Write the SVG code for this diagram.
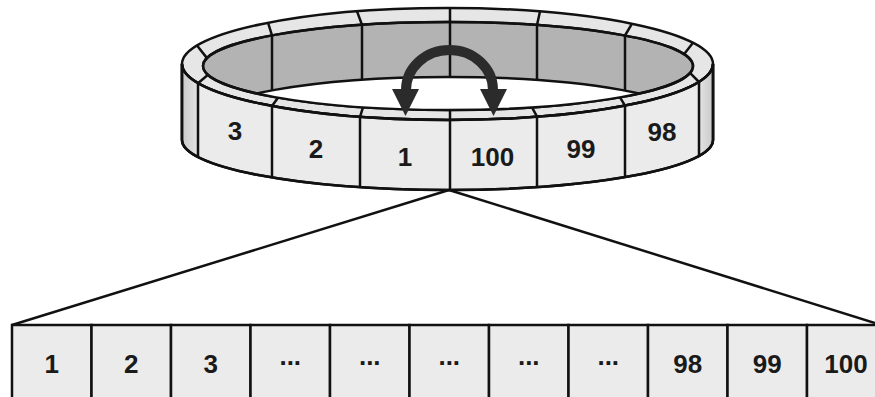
<svg xmlns="http://www.w3.org/2000/svg" width="875" height="397" viewBox="0 0 875 397">
  <style>
    .ln { fill: none; stroke: #111; stroke-width: 2.5; stroke-linejoin: round; }
    .lbl { font-family: "Liberation Sans", Arial, sans-serif; font-weight: bold; font-size: 26px; fill: #1a1a1a; text-anchor: middle; }
    .cell { fill: #ebebeb; stroke: #111; stroke-width: 2.5; }
  </style>
  <defs>
    <clipPath id="holeClip">
      <ellipse cx="448" cy="66" rx="245" ry="44"/>
    </clipPath>
    <linearGradient id="endL" x1="0" y1="0" x2="1" y2="0">
      <stop offset="0" stop-color="#c9c9c9"/>
      <stop offset="1" stop-color="#e4e4e4"/>
    </linearGradient>
    <linearGradient id="endR" x1="0" y1="0" x2="1" y2="0">
      <stop offset="0" stop-color="#e4e4e4"/>
      <stop offset="1" stop-color="#c9c9c9"/>
    </linearGradient>
  </defs>
  <rect width="875" height="397" fill="#ffffff"/>

  <g id="ring">
    <ellipse cx="447.5" cy="64" rx="265.5" ry="56" fill="#e6e6e6" stroke="#111" stroke-width="2.5"/>
    <ellipse cx="448" cy="66" rx="245" ry="44" fill="#b3b3b3" stroke="#111" stroke-width="2.5"/>
    <g clip-path="url(#holeClip)">
      <ellipse cx="448" cy="121" rx="245" ry="44" fill="#ffffff" stroke="#111" stroke-width="2.5"/>
    </g>
    <ellipse cx="448" cy="66" rx="245" ry="44" class="ln"/>
    <path class="ln" d="M272,35.4 L272,90.4 M362,24.8 L362,79.8 M450,22 L450,77 M537,25 L537,80 M625,35.5 L625,90.6"/>
    <path class="ln" d="M197,45.5 L207,58.1 M268,22.7 L272,35.4 M357,11.4 L362,24.8 M450,8 L450,22 M540,11.5 L537,25 M632,23.7 L625,35.5 M693,42.7 L684,54.2"/>
    <path class="ln" d="M208,74.8 L198,83.2 M278,97.7 L272,106 M363,107.3 L360,116.9 M450,110 L450,120 M532,107.3 L537,116.7 M620,97.3 L625,105.6 M690,72.9 L699,82"/>
    <path class="cell" d="M182,64 A265.5,56 0 0 0 713,64 L713,140 A265.5,50 0 0 1 182,140 Z"/>
    <path d="M182,64 A265.5,56 0 0 0 198,83.2 L198,157 A265.5,50 0 0 1 182,140 Z" fill="url(#endL)" stroke="#111" stroke-width="2.5"/>
    <path d="M699,82 A265.5,56 0 0 0 713,64 L713,140 A265.5,50 0 0 1 699,156 Z" fill="url(#endR)" stroke="#111" stroke-width="2.5"/>
    <path class="ln" d="M182,64 A265.5,56 0 0 0 713,64 L713,140 A265.5,50 0 0 1 182,140 Z"/>
    <path class="ln" d="M272,106 L272,177.5 M360,116.9 L360,187.2 M450,120 L450,190 M537,116.7 L537,187.1 M625,105.6 L625,177.2"/>
    <g id="ring-3"><text class="lbl" x="235" y="140">3</text></g>
    <g id="ring-2"><text class="lbl" x="316" y="158">2</text></g>
    <g id="ring-1"><text class="lbl" x="405" y="166">1</text></g>
    <g id="ring-100"><text class="lbl" x="492.5" y="166">100</text></g>
    <g id="ring-99"><text class="lbl" x="581" y="158">99</text></g>
    <g id="ring-98"><text class="lbl" x="662" y="141">98</text></g>
  </g>

  <g id="wrap-arrow">
    <path d="M406,90 A43.5,40 0 0 1 493,90" fill="none" stroke="#2b2b2b" stroke-width="10"/>
    <polygon points="392,89 419,89 405.5,116" fill="#2b2b2b"/>
    <polygon points="480,89 507,89 493.5,116" fill="#2b2b2b"/>
  </g>

  <g id="connectors">
    <path class="ln" d="M449,190 L12,325"/>
    <path class="ln" d="M449,190 L875,323"/>
  </g>

  <g id="array">
    <g id="cell-1"><rect class="cell" x="12" y="325" width="79.5" height="80"/><text class="lbl" x="51.75" y="373">1</text></g>
    <g id="cell-2"><rect class="cell" x="91.5" y="325" width="79.5" height="80"/><text class="lbl" x="131.25" y="373">2</text></g>
    <g id="cell-3"><rect class="cell" x="171" y="325" width="79.5" height="80"/><text class="lbl" x="210.75" y="373">3</text></g>
    <g id="cell-4"><rect class="cell" x="250.5" y="325" width="79.5" height="80"/><text class="lbl" x="290.25" y="365">...</text></g>
    <g id="cell-5"><rect class="cell" x="330" y="325" width="79.5" height="80"/><text class="lbl" x="369.75" y="365">...</text></g>
    <g id="cell-6"><rect class="cell" x="409.5" y="325" width="79.5" height="80"/><text class="lbl" x="449.25" y="365">...</text></g>
    <g id="cell-7"><rect class="cell" x="489" y="325" width="79.5" height="80"/><text class="lbl" x="528.75" y="365">...</text></g>
    <g id="cell-8"><rect class="cell" x="568.5" y="325" width="79.5" height="80"/><text class="lbl" x="608.25" y="365">...</text></g>
    <g id="cell-98"><rect class="cell" x="648" y="325" width="79.5" height="80"/><text class="lbl" x="687.75" y="373">98</text></g>
    <g id="cell-99"><rect class="cell" x="727.5" y="325" width="79.5" height="80"/><text class="lbl" x="767.25" y="373">99</text></g>
    <g id="cell-100"><rect class="cell" x="807" y="325" width="79.5" height="80"/><text class="lbl" x="846" y="373">100</text></g>
  </g>
</svg>
